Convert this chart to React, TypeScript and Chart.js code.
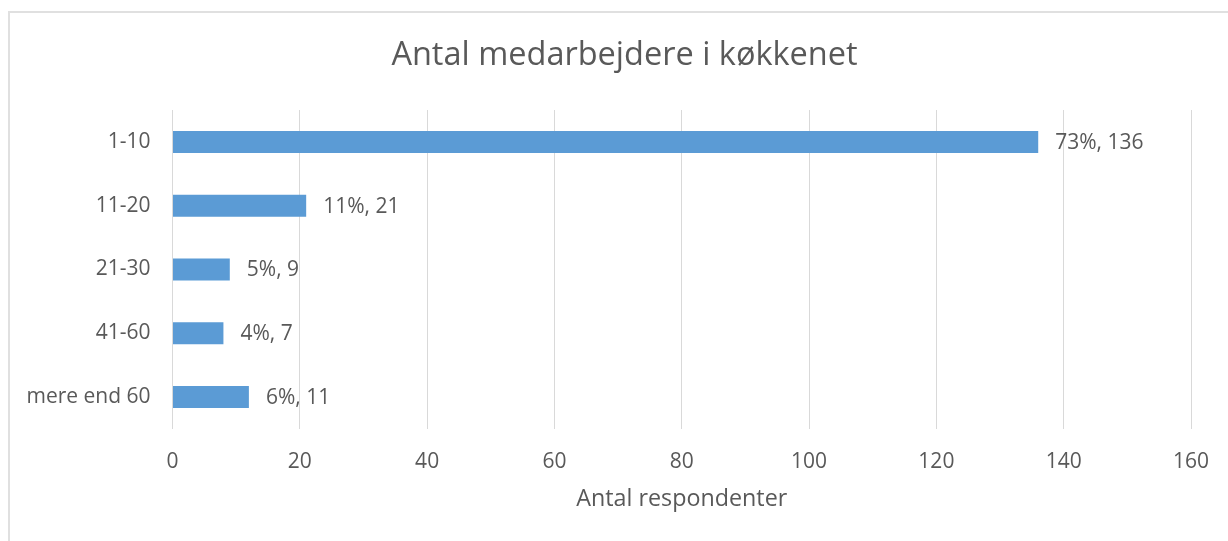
import React, { useEffect, useRef } from "react";
import { Chart, registerables } from "chart.js";

Chart.register(...registerables);

const categories = ["1-10", "11-20", "21-30", "41-60", "mere end 60"];
const values = [136, 21, 9, 8, 12];
const dataLabels = ["73%, 136", "11%, 21", "5%, 9", "4%, 7", "6%, 11"];
const xTicks = [0, 20, 40, 60, 80, 100, 120, 140, 160];
const titleText = "Antal medarbejdere i køkkenet";
const xTitle = "Antal respondenter";

const FONT = "'Open Sans', sans-serif";
const TEXT = "#595959";
const GRID = "#d9d9d9";
const BAR = "#5b9bd5";

const labelPlugin = {
  id: "barLabels",
  afterDatasetsDraw(chart: any) {
    const ctx = chart.ctx;
    const meta = chart.getDatasetMeta(0);
    ctx.save();
    ctx.font = `21px ${FONT}`;
    ctx.fillStyle = TEXT;
    ctx.textAlign = "left";
    ctx.textBaseline = "middle";
    meta.data.forEach((el: any, i: number) => {
      ctx.fillText(dataLabels[i], el.x + 17, el.y + 1);
    });
    ctx.restore();
  },
};

export default function App() {
  const ref = useRef<HTMLCanvasElement | null>(null);
  useEffect(() => {
    if (!ref.current) return;
    const chart = new Chart(ref.current, {
      type: "bar",
      data: {
        labels: categories,
        datasets: [
          {
            data: values,
            backgroundColor: BAR,
            borderWidth: 0,
            barPercentage: 0.345,
            categoryPercentage: 1,
          },
        ],
      },
      plugins: [labelPlugin],
      options: {
        indexAxis: "y",
        animation: false,
        responsive: false,
        maintainAspectRatio: false,
        layout: { padding: { left: 0, right: 0, top: 0, bottom: 0 } },
        plugins: {
          legend: { display: false },
          tooltip: { enabled: false },
          title: {
            display: true,
            text: titleText,
            color: TEXT,
            font: { family: FONT, size: 32.5, weight: "normal", lineHeight: 1.2 },
            padding: { top: 36.5, bottom: 34.5 },
          },
        },
        scales: {
          x: {
            type: "linear",
            min: 0,
            max: 160,
            afterFit(scale: any) {
              scale.height = 112;
            },
            afterBuildTicks(scale: any) {
              scale.ticks = xTicks.map((v) => ({ value: v }));
            },
            grid: { color: GRID, lineWidth: 1, drawTicks: false },
            border: { display: false },
            ticks: {
              color: TEXT,
              padding: 20,
              font: { family: FONT, size: 21 },
            },
            title: {
              display: true,
              text: xTitle,
              color: TEXT,
              font: { family: FONT, size: 23.3, lineHeight: 1.2 },
              padding: { top: 0, bottom: 28 },
            },
          },
          y: {
            afterFit(scale: any) {
              scale.width = 172.5;
            },
            grid: { display: false, drawTicks: false },
            border: { display: false },
            ticks: {
              color: TEXT,
              padding: 22,
              font: { family: FONT, size: 21 },
            },
          },
          spacer: {
            type: "linear",
            position: "right",
            afterFit(scale: any) {
              scale.width = 58;
            },
            grid: { display: false, drawTicks: false },
            border: { display: false },
            ticks: { display: false },
          },
        },
      },
    } as any);
    return () => chart.destroy();
  }, []);

  return (
    <div
      style={{
        position: "fixed",
        left: 0,
        top: 0,
        width: 1228,
        height: 541,
        overflow: "hidden",
        background: "#fff",
      }}
    >
      <div
        style={{
          position: "absolute",
          left: 8,
          top: 11,
          width: 1400,
          height: 700,
          borderLeft: "2px solid #e0e0e0",
          borderTop: "2px solid #e0e0e0",
        }}
      />
      <canvas
        ref={ref}
        width={1249}
        height={541}
        style={{ position: "absolute", left: 0, top: 0, width: 1249, height: 541 }}
      />
    </div>
  );
}
